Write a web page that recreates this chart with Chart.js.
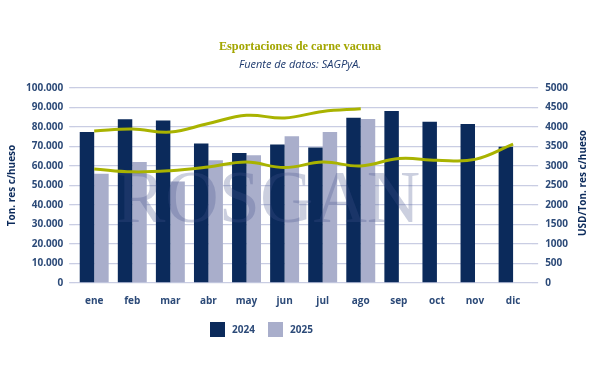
<!DOCTYPE html>
<html>
<head>
<meta charset="utf-8">
<script src="https://cdn.jsdelivr.net/npm/chart.js@4.4.0/dist/chart.umd.min.js"></script>
<style>
html,body{margin:0;padding:0;background:#fff;}
#wrap{width:600px;height:371px;position:relative;}
</style>
</head>
<body>
<div id="wrap"><canvas id="c" width="600" height="371"></canvas></div>
<script>
const months = ["ene","feb","mar","abr","may","jun","jul","ago","sep","oct","nov","dic"];
const tons2024 = [77500,84000,83300,71500,66700,71000,69500,84700,88200,82700,81500,69900];
const tons2025 = [56000,62000,52000,63000,65500,75300,77400,84100,null,null,null,null];
const price2025 = [3900,3950,3870,4090,4300,4230,4400,4470,null,null,null,null];
const price2024 = [2925,2850,2880,2975,3100,2960,3100,3000,3190,3150,3170,3560];
const leftTicks = [0,10000,20000,30000,40000,50000,60000,70000,80000,90000,100000];
const rightTicks = [0,500,1000,1500,2000,2500,3000,3500,4000,4500,5000];
const seriesNames = ["2024","2025"];
const titleText = 'Esportaciones de carne vacuna';
const subtitleText = 'Fuente de datos: SAGPyA.';

const navy = '#0b2a5b';
const lilac = '#a9aecb';
const olive = '#a9b300';
const tickCol = '#2c4a78';
const gridCol = '#c9cde3';
const sans = '"Open Sans", sans-serif';

const extras = {
  id:'extras',
  afterDatasetsDraw(chart){
    const ctx = chart.ctx;
    ctx.save();
    ctx.font = '74px "Liberation Serif", "DejaVu Serif", serif';
    ctx.fillStyle = 'rgba(70,82,140,0.28)';
    ctx.textBaseline = 'alphabetic';
    ctx.fillText('ROSGAN', 116, 222);
    ctx.restore();
  },
  afterDraw(chart){
    const ctx = chart.ctx;
    // titles
    ctx.save();
    ctx.textAlign = 'center';
    ctx.textBaseline = 'middle';
    ctx.font = 'bold 12.3px "Liberation Serif", serif';
    ctx.fillStyle = '#a3a600';
    ctx.fillText(titleText, 300, 47);
    ctx.font = 'italic 11px ' + sans;
    ctx.fillStyle = '#1e3a6e';
    ctx.fillText(subtitleText, 300, 65);
    ctx.restore();
    // right axis title, reading bottom-to-top
    ctx.save();
    ctx.translate(583, 183);
    ctx.rotate(-Math.PI/2);
    ctx.font = 'bold 10px ' + sans;
    ctx.fillStyle = navy;
    ctx.textAlign = 'center';
    ctx.textBaseline = 'middle';
    ctx.fillText('USD/Ton. res c/hueso', 0, 0);
    ctx.restore();
    // legend
    ctx.save();
    const cols = [navy, lilac];
    const xs = [210, 268];
    ctx.font = 'bold 10px ' + sans;
    ctx.textBaseline = 'middle';
    ctx.textAlign = 'left';
    seriesNames.forEach((n,i)=>{
      ctx.fillStyle = cols[i];
      ctx.fillRect(xs[i], 322, 15, 15);
      ctx.fillStyle = tickCol;
      ctx.fillText(n, xs[i]+22, 330);
    });
    ctx.restore();
  }
};

new Chart(document.getElementById('c'), {
  data: {
    labels: months,
    datasets: [
      {type:'line', label:'p2025', data:price2025, yAxisID:'y1', borderColor:olive, borderWidth:3, pointRadius:0, tension:0.4, fill:false, order:0},
      {type:'line', label:'p2024', data:price2024, yAxisID:'y1', borderColor:olive, borderWidth:3, pointRadius:0, tension:0.4, fill:false, order:0},
      {type:'bar', label:seriesNames[0], data:tons2024, yAxisID:'y', backgroundColor:navy, categoryPercentage:0.76, barPercentage:1.0, order:1},
      {type:'bar', label:seriesNames[1], data:tons2025, yAxisID:'y', backgroundColor:lilac, categoryPercentage:0.76, barPercentage:1.0, order:1}
    ]
  },
  options: {
    responsive:false,
    animation:false,
    layout:{padding:{left:4,right:25,top:88,bottom:60}},
    plugins:{
      title:{display:false},
      legend:{display:false},
      tooltip:{enabled:false}
    },
    scales:{
      x:{grid:{display:false}, border:{display:false},
        ticks:{color:tickCol, font:{family:sans, size:10, weight:'bold'}, padding:4}},
      y:{position:'left', min:0, max:100000,
        afterBuildTicks:(s)=>{s.ticks = leftTicks.map(v=>({value:v}));},
        grid:{color:gridCol, lineWidth:1.3, tickLength:6, tickColor:gridCol},
        border:{display:false},
        ticks:{color:tickCol, font:{family:sans, size:10, weight:'bold'}, padding:6,
          callback:(v)=>v===0?'0':v.toLocaleString('de-DE')},
        title:{display:true, text:'Ton. res c/hueso', color:navy, font:{family:sans, size:10, weight:'bold'}, padding:2}
      },
      y1:{position:'right', min:0, max:5000,
        afterBuildTicks:(s)=>{s.ticks = rightTicks.map(v=>({value:v}));},
        grid:{drawOnChartArea:false, color:gridCol, lineWidth:1.3, tickLength:6, tickColor:gridCol},
        border:{display:false},
        ticks:{color:tickCol, font:{family:sans, size:10, weight:'bold'}, padding:7,
          callback:(v)=>String(v)}
      }
    }
  },
  plugins:[extras]
});
</script>
</body>
</html>
